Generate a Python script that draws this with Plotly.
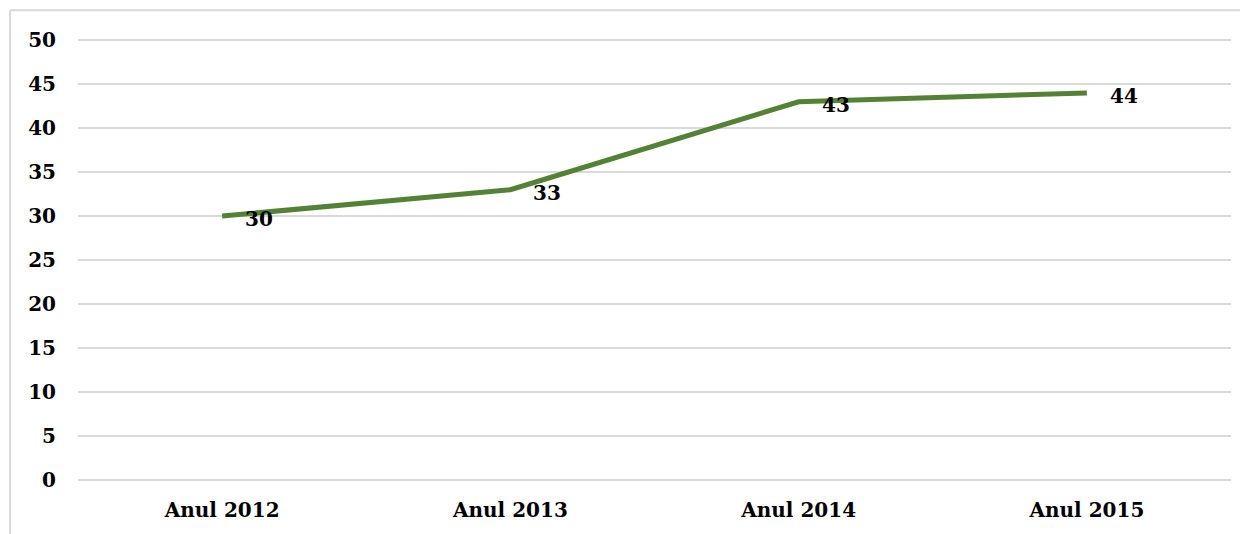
import plotly.graph_objects as go

categories = ["Anul 2012", "Anul 2013", "Anul 2014", "Anul 2015"]
values = [30, 33, 43, 44]
y_ticks = list(range(0, 51, 5))

# page has an 8px body margin; compensate so the plot lands where the reference has it
OFF = 8
PAD = 0.25          # small y-range padding so the 0 and 50 gridlines are drawn
PPU = 440 / 50      # pixels per y unit in the reference
W, H = 1248 - OFF, 534 - OFF
L, R = 78 - OFF, 17
T = 40 - OFF - PAD * PPU
B = 50 + PAD * PPU
pw, ph = W - L - R, H - T - B

font_family = "DejaVu Serif"
tick_font = dict(family=font_family, size=20, color="#000000", weight="bold")

fig = go.Figure()
fig.add_trace(go.Scatter(
    x=categories, y=values, mode="lines",
    line=dict(color="#548235", width=5),
    hoverinfo="skip", showlegend=False,
))

for c, v in zip(categories, values):
    fig.add_annotation(
        x=c, y=v, text=str(v), showarrow=False,
        xanchor="left", yanchor="middle", xshift=21, yshift=-3,
        font=tick_font,
    )

# outer chart border (light gray)
bx0 = (10 - OFF - L) / pw
by1 = 1 + (T - (10 - OFF)) / ph
fig.add_shape(type="line", xref="paper", yref="paper",
              x0=bx0, x1=1 + R / pw + 0.01, y0=by1, y1=by1,
              line=dict(color="#d9d9d9", width=2))
fig.add_shape(type="line", xref="paper", yref="paper",
              x0=bx0, x1=bx0, y0=by1, y1=-B / ph - 0.02,
              line=dict(color="#d9d9d9", width=2))

fig.update_layout(
    width=W, height=H,
    margin=dict(l=L, r=R, t=T, b=B, pad=0),
    paper_bgcolor="white", plot_bgcolor="white",
    xaxis=dict(
        type="category", categoryorder="array", categoryarray=categories,
        range=[-0.5, len(categories) - 0.5],
        showgrid=False, zeroline=False, showline=False,
        ticks="", ticklabelstandoff=14,
        tickfont=tick_font,
    ),
    yaxis=dict(
        range=[-PAD, 50 + PAD], tickvals=y_ticks, ticktext=[str(t) for t in y_ticks],
        showgrid=True, gridcolor="#d9d9d9", gridwidth=1.5,
        zeroline=False, showline=False, ticks="", ticklabelstandoff=21,
        tickfont=tick_font,
    ),
)

fig.write_html("out.html")
